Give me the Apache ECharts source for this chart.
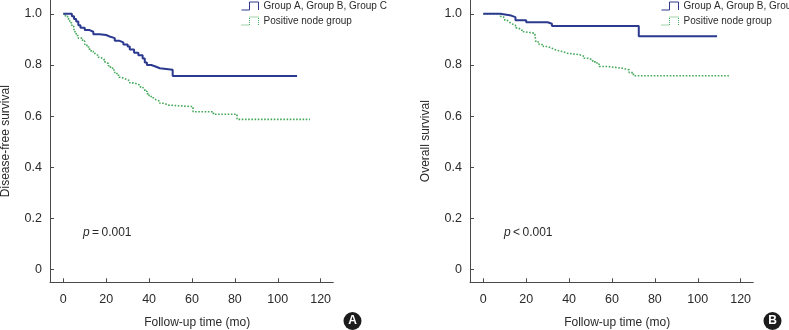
<!DOCTYPE html>
<html>
<head>
<meta charset="utf-8">
<script src="https://cdn.jsdelivr.net/npm/echarts@6/dist/echarts.min.js"></script>
<style>
html, body { margin: 0; padding: 0; background: #fff; }
#chart { width: 789px; height: 330px; }
</style>
</head>
<body>
<div id="chart"></div>
<script>
const FONT = "'Liberation Sans', Arial, sans-serif";
const nameABC = 'Group A, Group B, Group C';
const namePos = 'Positive node group';
const xTicks = [0, 20, 40, 60, 80, 100, 120];
const yTicks = [0, 0.2, 0.4, 0.6, 0.8, 1.0];

// A: disease-free survival
const dfsAbcTime = [0, 4, 5, 6, 7, 8, 10, 12, 14, 17, 20, 22, 24, 26, 28, 30, 31, 33, 35, 37, 38, 39, 41, 43, 45, 51, 109];
const dfsAbcSurv = [1.0, 0.99, 0.98, 0.97, 0.955, 0.945, 0.937, 0.93, 0.92, 0.917, 0.91, 0.905, 0.895, 0.888, 0.88, 0.872, 0.86, 0.848, 0.838, 0.825, 0.81, 0.8, 0.794, 0.787, 0.781, 0.757, 0.757];
const dfsPosTime = [0, 1, 2, 3, 4, 5, 6, 7, 9, 10, 11, 12, 13, 14, 15, 16, 17, 19, 20, 21, 22, 23, 24, 25, 26, 27, 29, 31, 33, 35, 36, 37, 38, 39, 40, 41, 42, 43, 45, 47, 49, 60.5, 70, 81, 115];
const dfsPosSurv = [1.0, 0.99, 0.98, 0.965, 0.95, 0.93, 0.915, 0.905, 0.893, 0.88, 0.87, 0.862, 0.853, 0.845, 0.838, 0.83, 0.823, 0.812, 0.805, 0.797, 0.788, 0.78, 0.77, 0.76, 0.752, 0.745, 0.738, 0.73, 0.724, 0.72, 0.712, 0.705, 0.697, 0.688, 0.68, 0.672, 0.665, 0.658, 0.65, 0.643, 0.637, 0.617, 0.607, 0.587, 0.587];

// B: overall survival
const osAbcTime = [0, 8, 13, 15, 20, 30, 32, 72.5, 109];
const osAbcSurv = [1.0, 0.993, 0.987, 0.975, 0.967, 0.961, 0.952, 0.912, 0.912];
const osPosTime = [0, 8, 9, 10, 11, 12, 13, 15, 16, 18, 19, 24, 24.5, 26, 28, 30, 32, 34, 37, 39, 45, 47, 49, 51, 53, 54, 58, 65, 68, 70, 114.5];
const osPosSurv = [1.0, 0.99, 0.983, 0.975, 0.968, 0.962, 0.955, 0.945, 0.938, 0.93, 0.924, 0.918, 0.89, 0.88, 0.872, 0.865, 0.858, 0.852, 0.846, 0.84, 0.834, 0.826, 0.82, 0.812, 0.804, 0.794, 0.787, 0.781, 0.77, 0.758, 0.758];

const BLUE = '#2b3a8f';
const GREEN = '#45a85a';
const AXIS = '#4a4a4a';
const TEXT = '#2a2a2a';
const STEP_ICON = 'path://M0,8 L8,8 L8,0 L17,0 L17,8';

function zip(t, s) {
  return t.map((v, i) => [v, s[i]]);
}

function xAxisFor(idx) {
  return {
    type: 'value',
    gridIndex: idx,
    min: -6.2,
    max: 125.9,
    axisLine: { show: true, onZero: false, lineStyle: { color: AXIS, width: 1 } },
    axisTick: { show: true, inside: true, length: 4, customValues: xTicks, lineStyle: { color: AXIS } },
    axisLabel: { customValues: xTicks, margin: 11, color: TEXT, fontSize: 12.5, fontFamily: FONT },
    splitLine: { show: false },
    name: 'Follow-up time (mo)',
    nameLocation: 'middle',
    nameGap: 34,
    nameTextStyle: { color: TEXT, fontSize: 12, fontFamily: FONT, padding: [0, 0, 0, 11] }
  };
}

function yAxisFor(idx, title) {
  return {
    type: 'value',
    gridIndex: idx,
    min: -0.05,
    max: 1.054,
    axisLine: { show: true, onZero: false, lineStyle: { color: AXIS, width: 1 } },
    axisTick: { show: true, inside: true, length: 4, customValues: yTicks, lineStyle: { color: AXIS } },
    axisLabel: {
      customValues: yTicks, margin: 8, color: TEXT, fontSize: 12.5, fontFamily: FONT,
      formatter: v => (v === 0 ? '0' : v.toFixed(1))
    },
    splitLine: { show: false },
    name: title,
    nameLocation: 'middle',
    nameGap: 38,
    nameTextStyle: { color: TEXT, fontSize: 12, fontFamily: FONT }
  };
}

function curve(name, data, idx, color, dotted) {
  return {
    type: 'line',
    name: name,
    xAxisIndex: idx,
    yAxisIndex: idx,
    step: 'end',
    symbol: 'none',
    data: data,
    lineStyle: dotted
      ? { color: color, width: 1.6, type: [1.6, 1.6] }
      : { color: color, width: 2 },
    itemStyle: { color: color },
    z: dotted ? 2 : 3
  };
}

function legendAt(left) {
  return {
    left: left,
    top: 1,
    orient: 'vertical',
    padding: 0,
    itemWidth: 17,
    itemHeight: 8,
    itemGap: 5,
    icon: STEP_ICON,
    symbolKeepAspect: false,
    textStyle: { color: TEXT, fontSize: 10, fontFamily: FONT },
    data: [
      { name: nameABC, itemStyle: { color: 'transparent', borderColor: BLUE, borderWidth: 1 } },
      { name: namePos, itemStyle: { color: 'transparent', borderColor: GREEN, borderWidth: 1, borderType: 'dotted' } }
    ]
  };
}

function badge(cx, letter) {
  return [
    { type: 'circle', shape: { cx: cx, cy: 321, r: 9 }, style: { fill: '#1c1c1c' } },
    {
      type: 'text', x: cx, y: 321,
      style: { text: letter, fill: '#fff', fontSize: 12, fontWeight: 'bold', fontFamily: FONT, align: 'center', verticalAlign: 'middle' }
    }
  ];
}

function pText(left, text) {
  return {
    type: 'text', left: left, top: 227,
    style: {
      text: text, fill: TEXT, fontSize: 12, fontFamily: FONT,
      rich: { i: { fontStyle: 'italic', fontSize: 12, fontFamily: FONT, fill: TEXT } }
    }
  };
}

const chart = echarts.init(document.getElementById('chart'), null, { renderer: 'canvas' });
chart.setOption({
  animation: false,
  backgroundColor: '#fff',
  grid: [
    { left: 50, top: 0, width: 283.3, height: 282.3, outerBoundsMode: 'none' },
    { left: 470, top: 0, width: 283.3, height: 282.3, outerBoundsMode: 'none' }
  ],
  xAxis: [xAxisFor(0), xAxisFor(1)],
  yAxis: [yAxisFor(0, 'Disease-free survival'), yAxisFor(1, 'Overall survival')],
  legend: [legendAt(241), legendAt(661)],
  series: [
    curve(namePos, zip(dfsPosTime, dfsPosSurv), 0, GREEN, true),
    curve(nameABC, zip(dfsAbcTime, dfsAbcSurv), 0, BLUE, false),
    curve(namePos, zip(osPosTime, osPosSurv), 1, GREEN, true),
    curve(nameABC, zip(osAbcTime, osAbcSurv), 1, BLUE, false)
  ],
  graphic: [
    pText(83, '{i|p}\u2009=\u20090.001'),
    pText(504, '{i|p}\u2009<\u20090.001'),
    ...badge(352.5, 'A'),
    ...badge(772.5, 'B')
  ]
});
</script>
</body>
</html>
